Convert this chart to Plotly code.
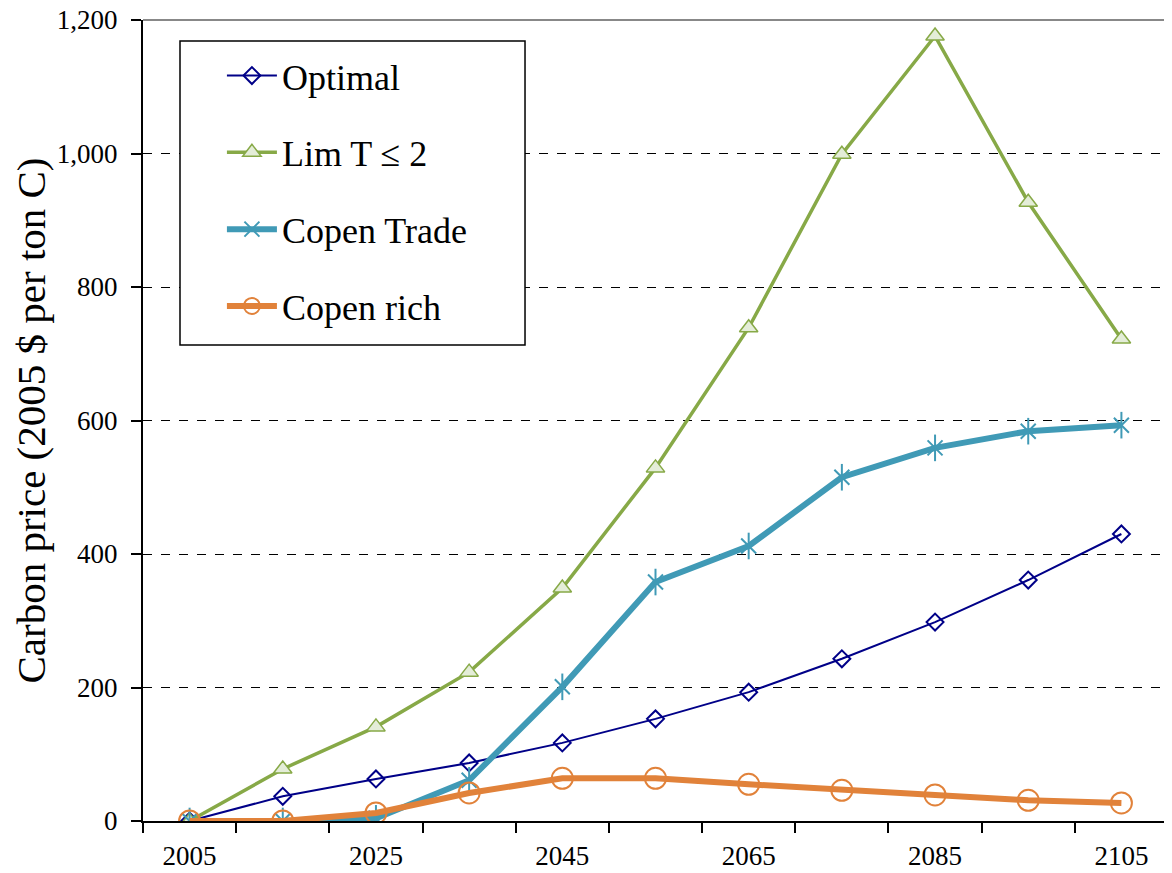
import plotly.graph_objects as go

years = [2005, 2015, 2025, 2035, 2045, 2055, 2065, 2075, 2085, 2095, 2105]
optimal = [0, 37, 63, 87, 117, 153, 193, 243, 298, 361, 430]
lim_t2 = [0, 78, 141, 223, 349, 529, 739, 999, 1176, 927, 722]
copen_trade = [0, 0, 4, 61, 201, 358, 412, 515, 559, 584, 593]
copen_rich = [0, 0, 12, 42, 64, 64, 55, 46, 39, 31, 27]

x_tick_vals = [2005, 2025, 2045, 2065, 2085, 2105]
y_tick_vals = [0, 200, 400, 600, 800, 1000, 1200]

FONT = "Palatino Linotype, Book Antiqua, Palatino, Liberation Serif, serif"
TEAL = "#409AB6"

fig = go.Figure()
fig.add_trace(go.Scatter(
    x=years, y=optimal, name="Optimal", mode="lines+markers", legendgroup="a",
    line=dict(color="#000088", width=2),
    marker=dict(symbol="diamond-open", size=13, color="#000088", line=dict(width=2))))
fig.add_trace(go.Scatter(
    x=years, y=lim_t2, name="Lim T ≤ 2", mode="lines+markers", legendgroup="b",
    line=dict(color="#87A947", width=3.5),
    marker=dict(symbol="triangle-up", size=16, color="#E4EDD8", line=dict(color="#87A947", width=1.5))))
fig.add_trace(go.Scatter(
    x=years, y=copen_trade, name="Copen Trade", mode="lines+markers", legendgroup="c",
    line=dict(color=TEAL, width=6),
    marker=dict(symbol="x-thin-open", size=15, color=TEAL, line=dict(color=TEAL, width=2))))
fig.add_trace(go.Scatter(
    x=years, y=copen_trade, name="Copen Trade", mode="markers", legendgroup="c", showlegend=False,
    marker=dict(symbol="line-ns-open", size=19, color=TEAL, line=dict(color=TEAL, width=2)),
    hoverinfo="skip"))
fig.add_trace(go.Scatter(
    x=years, y=copen_rich, name="Copen rich", mode="lines+markers", legendgroup="d",
    line=dict(color="#E1823A", width=6),
    marker=dict(symbol="circle-open", size=21, color="#E1823A", line=dict(color="#E1823A", width=2))))

fig.update_layout(
    width=1164, height=865,
    margin=dict(l=135, r=4, t=12, b=52, autoexpand=False),
    paper_bgcolor="white", plot_bgcolor="white",
    font=dict(family=FONT, color="black", size=27),
    showlegend=True,
    legend=dict(
        x=0.077, y=0.968, xanchor="left", yanchor="top",
        borderwidth=0, bgcolor="rgba(0,0,0,0)",
        font=dict(family=FONT, size=36), tracegroupgap=27,
        itemwidth=50, traceorder="grouped",
    ),
    xaxis=dict(
        range=[2000, 2110], tickvals=x_tick_vals, ticktext=[str(v) for v in x_tick_vals],
        ticks="outside", ticklen=10, tickcolor="rgba(0,0,0,0)", automargin=False,
        showline=True, linecolor="black", linewidth=2, showgrid=False, zeroline=False,
        tickfont=dict(size=27, family=FONT),
        minor=dict(ticks="outside", ticklen=10, tickwidth=2, tickcolor="black", tick0=2000, dtick=10, showgrid=False),
    ),
    yaxis=dict(
        range=[0, 1200], tickvals=y_tick_vals, tickformat=",",
        ticks="outside", ticklen=10, tickwidth=2, tickcolor="black", ticklabelstandoff=8,
        ticklabeloverflow="allow", automargin=False,
        showline=True, linecolor="black", linewidth=2, zeroline=False,
        showgrid=True, gridcolor="black", griddash="dash", gridwidth=1.2,
        tickfont=dict(size=27, family=FONT),
        title=dict(text="Carbon price (2005 $ per ton C)", font=dict(size=41, family=FONT), standoff=14),
    ),
    shapes=[
        dict(type="rect", xref="paper", yref="paper", x0=0.0361, x1=0.3727, y0=0.5943, y1=0.9738,
             line=dict(color="black", width=1.5), fillcolor="white", layer="above"),
        dict(type="line", xref="paper", yref="paper", x0=0, x1=1, y0=1, y1=1,
             line=dict(color="#888888", width=2)),
        dict(type="line", xref="paper", yref="paper", x0=1, x1=1, y0=0, y1=1,
             line=dict(color="#888888", width=2)),
    ],
)

fig.write_html("out.html")
